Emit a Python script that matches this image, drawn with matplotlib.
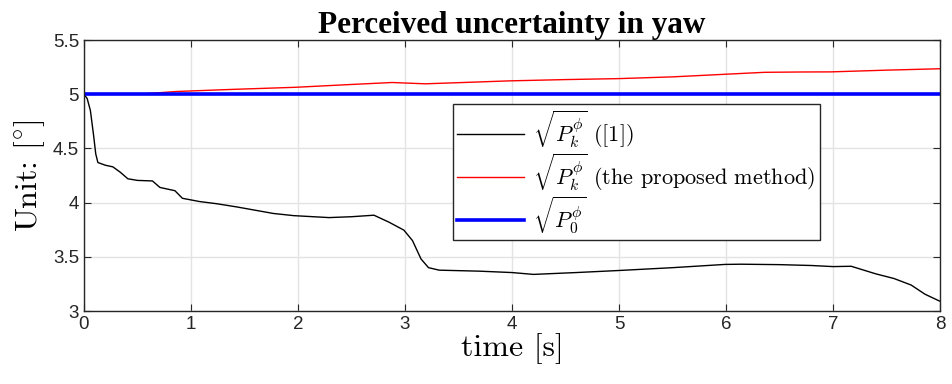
import matplotlib
matplotlib.use("Agg")
import matplotlib.pyplot as plt

plt.rcParams['mathtext.fontset'] = 'cm'
plt.rcParams['font.family'] = ['Liberation Sans', 'DejaVu Sans']

# black curve: sqrt(P_k^phi) ([1])
t_ref = [0, 0.03, 0.06, 0.09, 0.11, 0.13, 0.2, 0.27, 0.34, 0.41, 0.5, 0.64, 0.71, 0.85, 0.92,
         1.08, 1.24, 1.43, 1.77, 1.96, 2.29, 2.5, 2.71, 2.85, 2.99, 3.07, 3.15, 3.22,
         3.32, 3.69, 4.0, 4.2, 4.6, 5.0, 5.5, 5.99, 6.14, 6.5, 6.8, 7.0, 7.17, 7.4,
         7.57, 7.73, 7.86, 8.0]
v_ref = [5.0, 4.96, 4.85, 4.62, 4.45, 4.37, 4.345, 4.33, 4.28, 4.22, 4.205, 4.20, 4.14, 4.11, 4.04,
         4.01, 3.99, 3.96, 3.90, 3.88, 3.862, 3.87, 3.884, 3.82, 3.746, 3.65, 3.48, 3.40,
         3.377, 3.368, 3.355, 3.338, 3.355, 3.374, 3.40, 3.43, 3.432, 3.428, 3.42, 3.41, 3.413, 3.343,
         3.30, 3.24, 3.155, 3.09]

# red curve: sqrt(P_k^phi) (the proposed method)
t_new = [0, 0.3, 0.58, 0.86, 1.4, 1.98, 2.5, 2.88, 3.19, 3.6, 3.97, 4.5, 5.0, 5.5, 5.99,
         6.36, 6.7, 6.98, 7.5, 8.0]
v_new = [5.0, 5.0, 5.005, 5.025, 5.045, 5.064, 5.09, 5.108, 5.096, 5.11, 5.123, 5.135, 5.144,
         5.16, 5.184, 5.202, 5.205, 5.206, 5.222, 5.235]

# blue: sqrt(P_0^phi)
t_init = [0, 8]
v_init = [5.0, 5.0]

fig = plt.figure(figsize=(9.52, 3.84), dpi=100)
ax = fig.add_axes([0.0882, 0.190, 0.8992, 0.7058])

ax.plot(t_ref, v_ref, '-', color='black', lw=1.0, label=r'$\sqrt{P_k^{\phi}}$ ([1])')
ax.plot(t_new, v_new, '-', color='red', lw=1.0,
        label=r'$\sqrt{P_k^{\phi}}$ (the proposed method)')
ax.plot(t_init, v_init, '-', color='blue', lw=2.6, label=r'$\sqrt{P_0^{\phi}}$')

ax.set_xlim(0, 8)
ax.set_ylim(3, 5.5)
ax.set_xticks(range(0, 9))
ax.set_yticks([3, 3.5, 4, 4.5, 5, 5.5])
ax.set_yticklabels(['3', '3.5', '4', '4.5', '5', '5.5'])
ax.grid(True, color='#e3e3e3', lw=1.0)
ax.set_axisbelow(True)
ax.tick_params(direction='in', top=True, right=True, labelsize=13.5, length=5,
               color='#262626', labelcolor='#262626')
for s in ax.spines.values():
    s.set_color('#262626')
    s.set_linewidth(1.0)

ax.set_title('Perceived uncertainty in yaw', fontsize=22.5, fontweight='bold',
             family='Liberation Serif', pad=5)
ax.set_xlabel('time [s]', fontsize=23, family='cmr10', labelpad=0)
ax.set_ylabel(r'Unit: [$^{\circ}$]', fontsize=23, family='cmr10', labelpad=4)

leg = ax.legend(loc='upper left', bbox_to_anchor=(0.431, 0.765),
                prop={'family': 'cmr10', 'size': 16},
                fancybox=False, framealpha=1, edgecolor='#262626', handlelength=3.0,
                handletextpad=0.4, borderpad=0.2, labelspacing=0.05, borderaxespad=0)
leg.get_frame().set_linewidth(1.0)

fig.savefig('out.png', dpi=100)
